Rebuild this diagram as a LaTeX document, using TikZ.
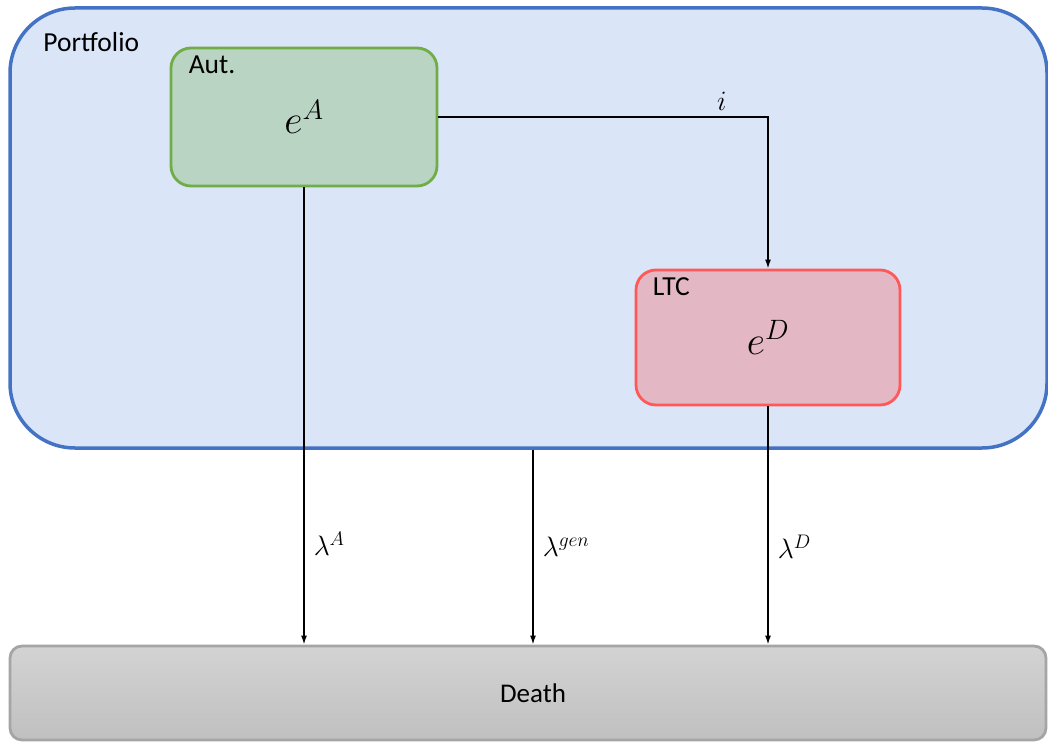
\RequirePackage{fix-cm}
\documentclass[tikz,border=0pt]{standalone}
\usepackage{fontspec}
\newfontfamily\calib{Carlito}
\usetikzlibrary{arrows.meta}
\definecolor{pfill}{HTML}{DAE5F7}
\definecolor{pdraw}{HTML}{4472C4}
\definecolor{afill}{HTML}{BAD4C3}
\definecolor{adraw}{HTML}{70AD47}
\definecolor{lfill}{HTML}{E4B7C4}
\definecolor{ldraw}{HTML}{FF5858}
\definecolor{dtop}{HTML}{D3D3D3}
\definecolor{dbot}{HTML}{C0C0C0}
\definecolor{ddraw}{HTML}{A5A5A5}
\tikzset{
  boxbase/.style={rectangle, inner sep=0pt, font=\fontsize{40}{48}\selectfont},
  portbox/.style={boxbase, fill=pfill, draw=pdraw, line width=3.5pt, rounded corners=65pt},
  autbox/.style={boxbase, fill=afill, draw=adraw, line width=2.8pt, rounded corners=20pt},
  ltcbox/.style={boxbase, fill=lfill, draw=ldraw, line width=2.8pt, rounded corners=20pt},
  deathbox/.style={rectangle, inner sep=0pt, top color=dtop, bottom color=dbot, draw=ddraw, line width=2.8pt, rounded corners=12pt, font=\calib\fontsize{27}{32}\selectfont},
  tag/.style={anchor=base west, inner sep=0pt, font=\calib\fontsize{27.5}{32}\selectfont},
  arr/.style={line width=1.5pt, -{Latex[length=9pt,width=6pt]}},
  rate/.style={right, inner sep=0pt, xshift=9pt, font=\fontsize{28}{34}\selectfont},
}
\begin{document}
\begin{tikzpicture}[x=1pt,y=-1pt]
\useasboundingbox (0,0) rectangle (1048,743);
\node[portbox, minimum width=1037pt, minimum height=440pt] (port) at (528.5,228) {};
\node[tag] (porttag) at ([shift={(35,45)}]port.north west) {Portfolio};
\node[autbox, minimum width=266pt, minimum height=138pt] (aut) at (304,117) {$e^A$};
\node[tag] (auttag) at ([shift={(19,27)}]aut.north west) {Aut.};
\node[ltcbox, minimum width=264pt, minimum height=135pt] (ltc) at (768,337.5) {$e^D$};
\node[tag] (ltctag) at ([shift={(18,27)}]ltc.north west) {LTC};
\node[deathbox, minimum width=1036pt, minimum height=94pt] (death) at (528,693) {\hspace*{10pt}Death};
\coordinate (gen) at (533,0);
\draw[arr] (aut.east) -| node[pos=0.43, above, inner sep=0pt, yshift=6pt, font=\fontsize{28}{34}\selectfont] (ilab) {$i$} (ltc.north);
\draw[arr] (aut.south) -- node[rate, pos=0.78] (la) {$\lambda^A$} (aut.south |- death.north);
\draw[arr] (port.south -| gen) -- node[rate, pos=0.5] (lg) {$\lambda^{gen}$} (death.north -| gen);
\draw[arr] (ltc.south) -- node[rate, pos=0.59] (ld) {$\lambda^D$} (ltc.south |- death.north);
\end{tikzpicture}
\end{document}
